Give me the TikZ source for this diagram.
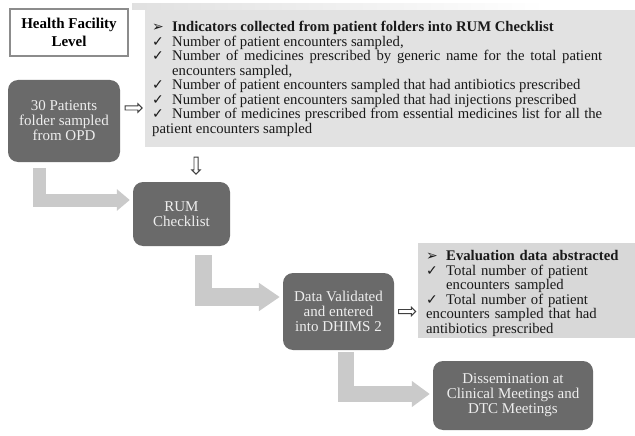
\documentclass[tikz,border=0pt]{standalone}
\usepackage{fontspec}
\setmainfont{Liberation Serif}
\newfontfamily\symfont{DejaVu Sans}
\usetikzlibrary{arrows.meta,shapes.arrows}

\definecolor{boxgray}{RGB}{106,106,106}
\definecolor{boxtext}{RGB}{238,238,238}
\definecolor{bentgray}{RGB}{202,202,202}
\definecolor{panelA}{RGB}{226,226,226}
\definecolor{panelB}{RGB}{216,216,216}

\hyphenpenalty=10000
\exhyphenpenalty=10000
\newcommand\headitem[1]{\par\hangindent=20pt\hangafter=1\noindent\makebox[20pt][l]{\symfont\fontsize{14}{14}\selectfont ➢}\textbf{#1}}
\newcommand\tickitem[1]{\par\hangindent=20pt\hangafter=1\noindent\makebox[20pt][l]{\symfont\fontsize{14}{14}\selectfont ✓}#1}

\begin{document}
\begin{tikzpicture}[x=1pt,y=-1pt,
	stepbox/.style={rectangle,rounded corners=10pt,fill=boxgray,text=boxtext,align=center,inner sep=0pt,font=\fontsize{15}{15}\selectfont},
	panel/.style={rectangle,inner sep=0pt,anchor=north west},
	listtext/.style={anchor=north west,inner sep=0pt,align=justify,text=black!90,font=\fontsize{14.7}{14.5}\selectfont},
	bent/.style={draw=bentgray,line join=miter},
	hollowarrow/.style={single arrow,draw=black!75,fill=white,line width=0.9pt,inner sep=1.6pt,minimum height=17pt,single arrow head extend=2.2pt}]

	\useasboundingbox (0,0) rectangle (635,436);

	\shade[left color=black!12,right color=white] (132,4) rectangle (545,10);

	\node[rectangle,draw=black!45,line width=1.5pt,fill=white,align=center,inner sep=0pt,minimum width=118pt,minimum height=47pt,font=\fontsize{15}{18.5}\selectfont\bfseries] (level) at (69,32.5) {Health Facility\\Level};

	\node[panel,fill=panelA,minimum width=490pt,minimum height=137pt] (indicators) at (145,10) {};
	\node[listtext,text width=450pt] (indlist) at (152,17) {%
		\headitem{Indicators collected from patient folders into RUM Checklist}
		\tickitem{Number of patient encounters sampled,}
		\tickitem{Number of medicines prescribed by generic name for the total patient encounters sampled,}
		\tickitem{Number of patient encounters sampled that had antibiotics prescribed}
		\tickitem{Number of patient encounters sampled that had injections prescribed}
		\tickitem{Number of medicines prescribed from essential medicines list for all the patient encounters sampled}};

	\node[stepbox,minimum width=112pt,minimum height=82pt] (patients) at (64,121) {30 Patients\\folder sampled\\from OPD};
	\node[stepbox,minimum width=97pt,minimum height=64pt] (rum) at (181.5,214) {RUM\\Checklist};
	\node[stepbox,minimum width=111pt,minimum height=77pt] (data) at (338.5,311.5) {Data Validated\\and entered\\into DHIMS 2};
	\node[stepbox,minimum width=160pt,minimum height=69pt] (diss) at (513,395.5) {Dissemination at\\Clinical Meetings and\\DTC Meetings};

	\node[panel,fill=panelB,minimum width=217pt,minimum height=95pt] (evaluation) at (418,243) {};
	\node[listtext,align=left,text width=190pt] (evallist) at (426,246) {%
		\headitem{\mbox{Evaluation data abstracted}}
		\tickitem{Total number of patient encounters sampled}
		\tickitem{Total number of patient encounters sampled that had antibiotics prescribed}};

	\draw[bent,line width=13pt,-{Triangle[width=21pt,length=13pt]}] ([xshift=-25pt,yshift=-6pt]patients.south) |- ([xshift=-3pt,yshift=14pt]rum.west);
	\draw[bent,line width=17.5pt,-{Triangle[width=27pt,length=21pt]}] ([xshift=22pt,yshift=-9pt]rum.south) |- ([xshift=-3pt,yshift=14.5pt]data.west);
	\draw[bent,line width=16.5pt,-{Triangle[width=25pt,length=18pt]}] ([xshift=7.5pt,yshift=-2pt]data.south) |- ([xshift=-3pt,yshift=1.5pt]diss.west);

	\path ([yshift=13pt]patients.east) -- node[hollowarrow]{} ([yshift=13pt]patients.east -| indicators.west);
	\path ([xshift=14.5pt]rum.north |- indicators.south) -- node[hollowarrow,shape border rotate=270]{} ([xshift=14.5pt]rum.north);
	\path (data.east) -- node[hollowarrow]{} (data.east -| evaluation.west);
\end{tikzpicture}
\end{document}
